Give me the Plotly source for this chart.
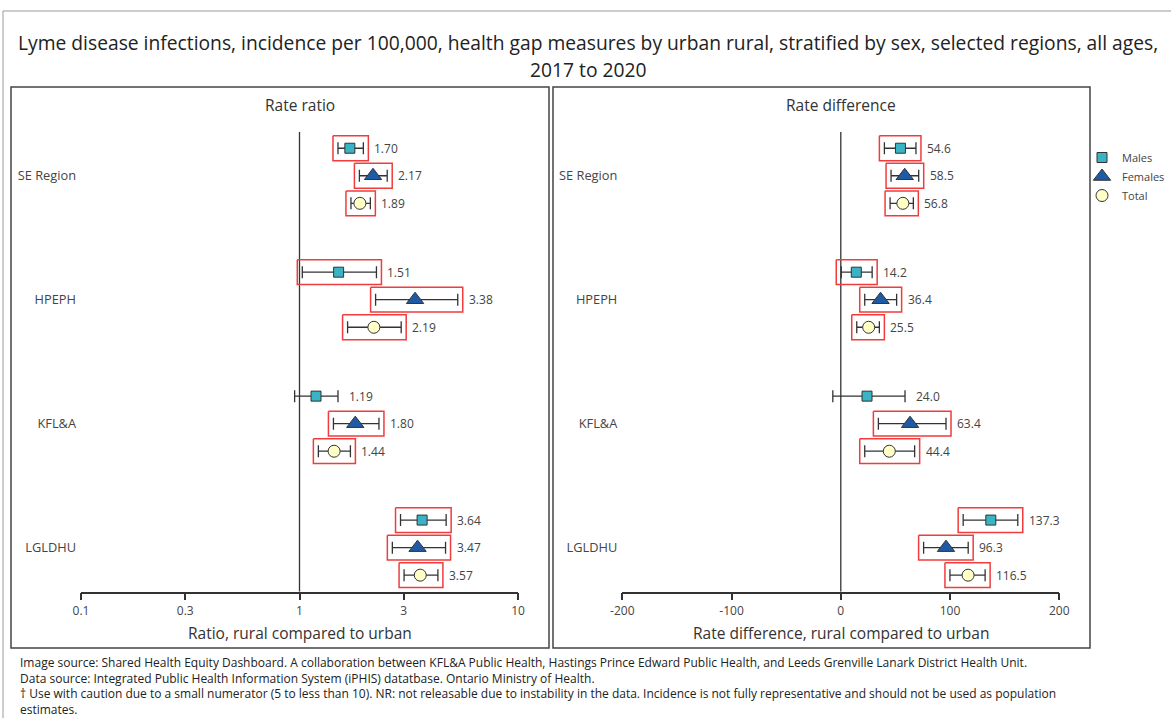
import math
import plotly.graph_objects as go

# ---- data -------------------------------------------------------------
regions = ["SE Region", "HPEPH", "KFL&A", "LGLDHU"]
series = ["Males", "Females", "Total"]

# Rate ratio (rural vs urban) with 95% CI
rr_males = [1.70, 1.51, 1.19, 3.64]
rr_males_lo = [1.50, 1.03, 0.95, 2.90]
rr_males_hi = [1.96, 2.25, 1.50, 4.69]
rr_females = [2.17, 3.38, 1.80, 3.47]
rr_females_lo = [1.88, 2.23, 1.43, 2.66]
rr_females_hi = [2.52, 5.30, 2.31, 4.66]
rr_total = [1.89, 2.19, 1.44, 3.57]
rr_total_lo = [1.72, 1.66, 1.22, 3.01]
rr_total_hi = [2.11, 2.92, 1.71, 4.30]

# Rate difference per 100,000 (rural minus urban) with 95% CI
rd_males = [54.6, 14.2, 24.0, 137.3]
rd_males_lo = [39.9, 0.4, -7.3, 112.0]
rd_males_hi = [68.8, 28.7, 58.8, 162.0]
rd_females = [58.5, 36.4, 63.4, 96.3]
rd_females_lo = [46.0, 21.9, 34.4, 75.8]
rd_females_hi = [71.3, 51.1, 96.3, 116.6]
rd_total = [56.8, 25.5, 44.4, 116.5]
rd_total_lo = [45.1, 14.6, 21.9, 99.9]
rd_total_hi = [66.4, 35.3, 67.6, 132.1]

ratio_ticks = [0.1, 0.3, 1, 3, 10]
diff_ticks = [-200, -100, 0, 100, 200]

# ---- layout geometry (pixels) ------------------------------------------
W, H = 1171, 718
FONT = "Open Sans, Segoe UI, sans-serif"
TXT = "#444444"
DARK = "#333333"

L_X0, L_X1 = 81.0, 518.0        # left plot area
R_X0, R_X1 = 622.3, 1059.3      # right plot area
Y_TOP, Y_BOT = 131.7, 591.7     # plot area top / axis line
GROUP_STEP = 4.5
Y_RANGE = [3 * GROUP_STEP + 2 + 0.6, -0.6]


def px(xp):
    return xp / W


def py(yp):
    return 1 - yp / H


ratio_range = [-1, 1]
diff_range = [-200, 200]
ratio_px_per_decade = (L_X1 - L_X0) / (ratio_range[1] - ratio_range[0])
diff_px_per_unit = (R_X1 - R_X0) / (diff_range[1] - diff_range[0])
y_px_per_unit = (Y_BOT - Y_TOP) / (Y_RANGE[0] - Y_RANGE[1])

styles = {
    "Males": dict(symbol="square", size=10, color="#3AB3C4"),
    "Females": dict(symbol="triangle-up", size=15, color="#1F5AA6"),
    "Total": dict(symbol="circle", size=12, color="#FFFFC6"),
}

ratio_data = {
    "Males": (rr_males, rr_males_lo, rr_males_hi),
    "Females": (rr_females, rr_females_lo, rr_females_hi),
    "Total": (rr_total, rr_total_lo, rr_total_hi),
}
diff_data = {
    "Males": (rd_males, rd_males_lo, rd_males_hi),
    "Females": (rd_females, rd_females_lo, rd_females_hi),
    "Total": (rd_total, rd_total_lo, rd_total_hi),
}

fig = go.Figure()
annotations = []

BOX_PAD_PX = 5
BOX_HALF_H = 12.4 / y_px_per_unit


def add_panel(data, xa, ya, is_log, null_value, show_legend):
    # reference line at the null value
    fig.add_trace(go.Scatter(
        x=[null_value, null_value], y=Y_RANGE, xaxis=xa, yaxis=ya,
        mode="lines", line=dict(color=DARK, width=1.3),
        hoverinfo="skip", showlegend=False, cliponaxis=False,
    ))
    for s_idx, name in enumerate(series):
        vals, lo, hi = data[name]
        ys = [g * GROUP_STEP + s_idx for g in range(len(regions))]
        # red frame around estimates whose interval excludes the null
        for v, l, h, y in zip(vals, lo, hi, ys):
            if l > null_value:
                if is_log:
                    f = 10 ** (BOX_PAD_PX / ratio_px_per_decade)
                    bx0, bx1 = l / f, h * f
                else:
                    d = BOX_PAD_PX / diff_px_per_unit
                    bx0, bx1 = l - d, h + d
                fig.add_trace(go.Scatter(
                    x=[bx0, bx1, bx1, bx0, bx0],
                    y=[y - BOX_HALF_H, y - BOX_HALF_H, y + BOX_HALF_H,
                       y + BOX_HALF_H, y - BOX_HALF_H],
                    xaxis=xa, yaxis=ya, mode="lines",
                    line=dict(color="#F03C3C", width=1.5),
                    hoverinfo="skip", showlegend=False,
                ))
        st = styles[name]
        fig.add_trace(go.Scatter(
            x=vals, y=ys, xaxis=xa, yaxis=ya, mode="markers", name=name,
            legendgroup=name, showlegend=show_legend,
            marker=dict(symbol=st["symbol"], size=st["size"], color=st["color"],
                        line=dict(color=DARK, width=1)),
            error_x=dict(type="data", symmetric=False,
                         array=[h - v for v, h in zip(vals, hi)],
                         arrayminus=[v - l for v, l in zip(vals, lo)],
                         color=DARK, thickness=1.3, width=6),
        ))
        for v, h, y in zip(vals, hi, ys):
            label = f"{v:.2f}" if is_log else f"{v:.1f}"
            annotations.append(dict(
                x=math.log10(h) if is_log else h, y=y, xref=xa, yref=ya,
                text=label, showarrow=False, xanchor="left", yanchor="middle",
                xshift=9, font=dict(size=12, color=TXT, family=FONT),
            ))


add_panel(ratio_data, "x", "y", True, 1, True)
add_panel(diff_data, "x2", "y2", False, 0, False)

axis_common = dict(
    showline=True, linecolor=DARK, linewidth=1.5, ticks="outside", ticklen=7,
    tickwidth=1.5, tickcolor=DARK, showgrid=False, zeroline=False,
    tickfont=dict(size=12, color=TXT, family=FONT), automargin=False,
)
y_common = dict(
    domain=[py(Y_BOT), py(Y_TOP)], range=Y_RANGE, showline=False, ticks="",
    showgrid=False, zeroline=False, automargin=False, ticklabelstandoff=4,
    tickvals=[g * GROUP_STEP + 1 for g in range(len(regions))], ticktext=regions,
    tickfont=dict(size=12.8, color=TXT, family=FONT),
)

fig.update_layout(
    width=W, height=H, margin=dict(l=0, r=0, t=0, b=0, autoexpand=False),
    paper_bgcolor="white", plot_bgcolor="rgba(0,0,0,0)",
    font=dict(family=FONT, color=TXT),
    xaxis=dict(type="log", domain=[px(L_X0), px(L_X1)], range=ratio_range,
               tickvals=ratio_ticks, ticktext=[str(t) for t in ratio_ticks],
               anchor="y", **axis_common),
    yaxis=dict(anchor="x", **y_common),
    xaxis2=dict(domain=[px(R_X0), px(R_X1)], range=diff_range,
                tickvals=diff_ticks, ticktext=[str(t) for t in diff_ticks],
                anchor="y2", **axis_common),
    yaxis2=dict(anchor="x2", **y_common),
    legend=dict(x=px(1082), y=py(143), xanchor="left", yanchor="top",
                font=dict(size=11, color=TXT, family=FONT),
                bgcolor="rgba(0,0,0,0)", itemwidth=30, tracegroupgap=0),
    showlegend=True,
)

# titles and captions
text_items = [
    ("Lyme disease infections, incidence per 100,000, health gap measures by urban rural, "
     "stratified by sex, selected regions, all ages,", 588, 42, 19.25, "center", "#222222"),
    ("2017 to 2020", 588, 69, 19.25, "center", "#222222"),
    ("Rate ratio", (L_X0 + L_X1) / 2, 105, 15.5, "center", DARK),
    ("Rate difference", (R_X0 + R_X1) / 2, 105, 15.5, "center", DARK),
    ("Ratio, rural compared to urban", (L_X0 + L_X1) / 2, 633, 15.5, "center", DARK),
    ("Rate difference, rural compared to urban", (R_X0 + R_X1) / 2, 633, 15.5, "center", DARK),
]
for text, x, y, size, anchor, color in text_items:
    annotations.append(dict(
        x=px(x), y=py(y), xref="paper", yref="paper", text=text, showarrow=False,
        xanchor=anchor, yanchor="middle", font=dict(size=size, color=color, family=FONT),
    ))

footer = [
    "Image source: Shared Health Equity Dashboard. A collaboration between KFL&A Public Health, "
    "Hastings Prince Edward Public Health, and Leeds Grenville Lanark District Health Unit.",
    "Data source: Integrated Public Health Information System (iPHIS) datatbase. Ontario Ministry of Health.",
    "\u2020 Use with caution due to a small numerator (5 to less than 10). NR: not releasable due to "
    "instability in the data. Incidence is not fully representative and should not be used as population",
    "estimates.",
]
annotations.append(dict(
    x=px(18), y=py(652), xref="paper", yref="paper", text="<br>".join(footer),
    showarrow=False, xanchor="left", yanchor="top", align="left",
    font=dict(size=12, color="#222222", family=FONT),
))

fig.update_layout(annotations=annotations)

# panel frames and outer border
shapes = [
    dict(type="rect", xref="paper", yref="paper", x0=px(11), x1=px(549),
         y0=py(648), y1=py(87), line=dict(color="#444444", width=1.5)),
    dict(type="rect", xref="paper", yref="paper", x0=px(553), x1=px(1090),
         y0=py(648), y1=py(87), line=dict(color="#444444", width=1.5)),
    dict(type="path", xref="paper", yref="paper",
         path=f"M {px(3)},{py(718)} L {px(3)},{py(11)} L 1,{py(11)}",
         line=dict(color="#9A9A9A", width=1)),
]
fig.update_layout(shapes=shapes)

fig.write_html("out.html")
